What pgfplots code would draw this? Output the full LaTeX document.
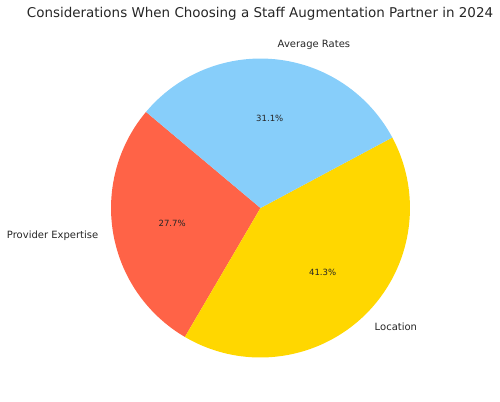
\documentclass[border=0pt]{standalone}
\usepackage{pgfplots}
\usepackage{pgfplotstable}
\pgfplotsset{compat=1.18}
\usepackage{fontspec}
\setmainfont{DejaVu Sans}
\definecolor{pie0}{HTML}{FF6347}
\definecolor{pie1}{HTML}{FFD700}
\definecolor{pie2}{HTML}{87CEFA}
\definecolor{txt}{HTML}{262626}

\pgfplotstableread[col sep=comma]{
label,value
Provider Expertise,27.7
Location,41.3
Average Rates,31.1
}\piedata

% cumulative angles from the data
\def\total{0}%
\pgfplotstableforeachcolumnelement{value}\of\piedata\as\v{%
  \pgfmathsetmacro\t{\total+\v}\xdef\total{\t}}%
\xdef\cur{140}%
\foreach \i in {0,1,2}{%
  \pgfplotstablegetelem{\i}{value}\of\piedata
  \pgfmathsetmacro\sw{\pgfplotsretval/\total*360}%
  \pgfmathsetmacro\en{\cur+\sw}%
  \pgfmathsetmacro\md{\cur+\sw/2}%
  \pgfmathparse{cos(\md)>0 ? "west" : "east"}%
  \expandafter\xdef\csname an\i\endcsname{\pgfmathresult}%
  \expandafter\xdef\csname sa\i\endcsname{\cur}%
  \expandafter\xdef\csname ea\i\endcsname{\en}%
  \expandafter\xdef\csname ma\i\endcsname{\md}%
  \pgfplotstablegetelem{\i}{value}\of\piedata
  \expandafter\xdef\csname pv\i\endcsname{\pgfplotsretval}%
  \pgfplotstablegetelem{\i}{label}\of\piedata
  \expandafter\xdef\csname lb\i\endcsname{\pgfplotsretval}%
  \xdef\cur{\en}%
}%
\def\R{112.1pt}

\begin{document}
\begin{tikzpicture}
\begin{axis}[
  width=375pt, height=300.75pt, scale only axis,
  xmin=0, xmax=500, ymin=0, ymax=401,
  hide axis, clip=false]
\node[text=txt, font=\fontsize{10.1}{12}\selectfont] at (axis cs:260,387) {Considerations When Choosing a Staff Augmentation Partner in 2024};
\pgfplotsinvokeforeach{0,1,2}{
  \fill[pie#1] (axis cs:260.5,193) -- ++(\csname sa#1\endcsname:\R)
     arc[start angle=\csname sa#1\endcsname, end angle=\csname ea#1\endcsname, radius=\R] -- cycle;
}
\pgfplotsinvokeforeach{0,1,2}{
  \node[text=txt, font=\fontsize{6.4}{8}\selectfont] at ([shift={(\csname ma#1\endcsname:0.6*\R)}]axis cs:260.5,193)
     {\csname pv#1\endcsname\%};
  \node[text=txt, font=\fontsize{7.5}{9}\selectfont, anchor=\csname an#1\endcsname, inner sep=0pt] at ([shift={(\csname ma#1\endcsname:1.1*\R)}]axis cs:260.5,193)
     {\csname lb#1\endcsname};
}
\end{axis}
\path (current axis.south west) rectangle (current axis.north east);
\end{tikzpicture}
\end{document}
